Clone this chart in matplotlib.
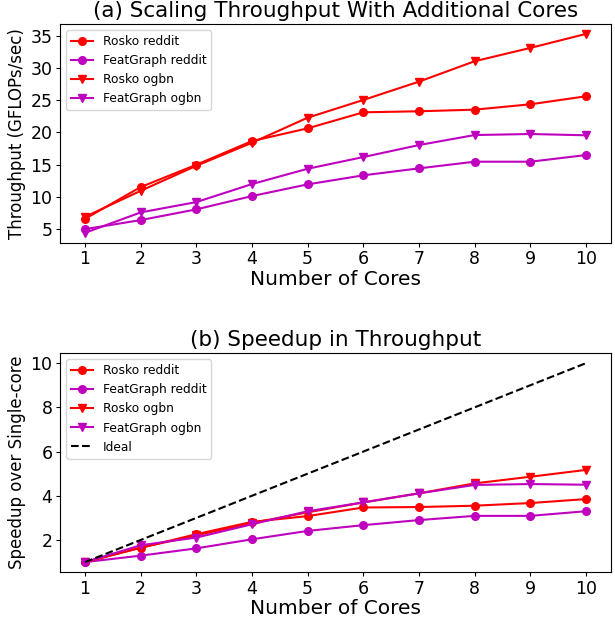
import numpy as np
import matplotlib
matplotlib.use("Agg")
import matplotlib.pyplot as plt
from matplotlib.ticker import MultipleLocator

# Cores and measured throughput (GFLOPs/sec)
cores = [1, 2, 3, 4, 5, 6, 7, 8, 9, 10]
rosko_reddit = [6.63, 11.55, 15.0, 18.67, 20.64, 23.12, 23.28, 23.53, 24.36, 25.6]
featgraph_reddit = [5.03, 6.43, 8.09, 10.15, 11.96, 13.36, 14.44, 15.47, 15.47, 16.5]
rosko_ogbn = [6.94, 10.97, 14.84, 18.41, 22.29, 25.03, 27.87, 31.03, 33.09, 35.26]
featgraph_ogbn = [4.46, 7.62, 9.22, 12.01, 14.38, 16.19, 18.05, 19.6, 19.76, 19.56]

# Speedup over single-core
speed_rosko_reddit = [1.0, 1.65, 2.26, 2.82, 3.08, 3.47, 3.49, 3.55, 3.67, 3.85]
speed_featgraph_reddit = [1.0, 1.29, 1.62, 2.03, 2.41, 2.67, 2.90, 3.09, 3.09, 3.30]
speed_rosko_ogbn = [1.0, 1.65, 2.21, 2.77, 3.25, 3.70, 4.11, 4.56, 4.86, 5.17]
speed_featgraph_ogbn = [1.0, 1.76, 2.11, 2.71, 3.30, 3.70, 4.11, 4.49, 4.53, 4.50]
ideal = [1, 2, 3, 4, 5, 6, 7, 8, 9, 10]

fig, (ax1, ax2) = plt.subplots(2, 1, figsize=(6.15, 6.21), dpi=100)
fig.subplots_adjust(left=0.0976, right=0.9935, top=0.9614, bottom=0.0789, hspace=0.505)


def style_axis(ax, title, ylabel):
    ax.set_title(title, fontsize=15.5, pad=5)
    ax.set_xlabel("Number of Cores", fontsize=14.5, labelpad=1)
    ax.set_ylabel(ylabel, fontsize=12, labelpad=3)
    ax.set_xticks(cores)
    ax.tick_params(labelsize=12.5, length=3, pad=2.5)
    ax.legend(loc="upper left", fontsize=8.8, handlelength=1.8)


ms = 5.5

# (a) throughput
ax1.plot(cores, rosko_reddit, color="r", marker="o", markersize=ms, label="Rosko reddit")
ax1.plot(cores, featgraph_reddit, color="m", marker="o", markersize=ms, label="FeatGraph reddit")
ax1.plot(cores, rosko_ogbn, color="r", marker="v", markersize=ms, label="Rosko ogbn")
ax1.plot(cores, featgraph_ogbn, color="m", marker="v", markersize=ms, label="FeatGraph ogbn")
ax1.yaxis.set_major_locator(MultipleLocator(5))
style_axis(ax1, "(a) Scaling Throughput With Additional Cores", "Throughput (GFLOPs/sec)")

# (b) speedup
ax2.plot(cores, speed_rosko_reddit, color="r", marker="o", markersize=ms, label="Rosko reddit")
ax2.plot(cores, speed_featgraph_reddit, color="m", marker="o", markersize=ms, label="FeatGraph reddit")
ax2.plot(cores, speed_rosko_ogbn, color="r", marker="v", markersize=ms, label="Rosko ogbn")
ax2.plot(cores, speed_featgraph_ogbn, color="m", marker="v", markersize=ms, label="FeatGraph ogbn")
ax2.plot(cores, ideal, color="k", linestyle="--", label="Ideal")
ax2.set_yticks([2, 4, 6, 8, 10])
style_axis(ax2, "(b) Speedup in Throughput", "Speedup over Single-core")

plt.savefig("out.png")
